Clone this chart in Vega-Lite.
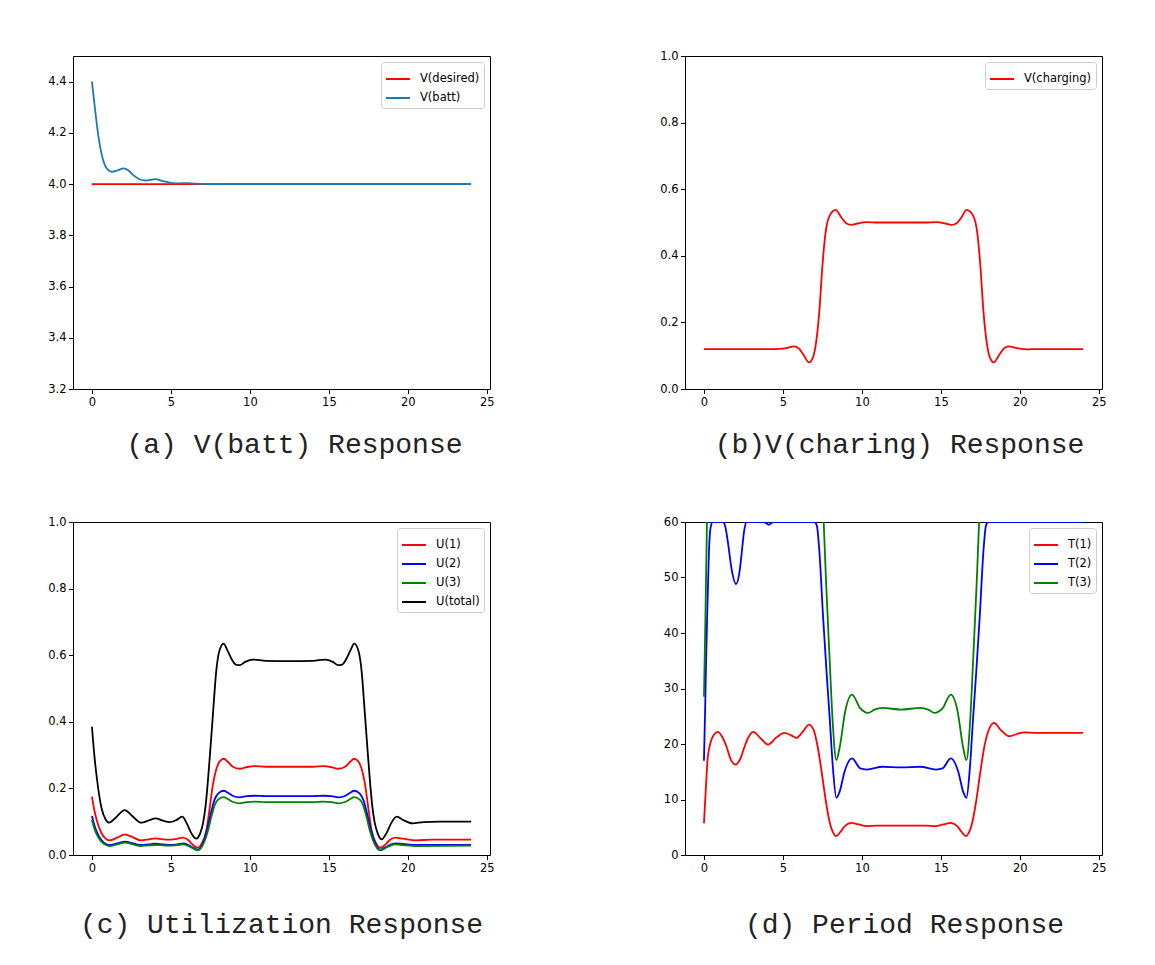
{
"$schema": "https://vega.github.io/schema/vega-lite/v6.json",
"background": "white",
"padding": {"left": 47, "top": 49, "right": 20, "bottom": 20},
"config": {
  "view": {"stroke": "black", "strokeWidth": 1},
  "axis": {"domain": false, "grid": false, "tickColor": "black", "tickSize": 4.5, "tickWidth": 1, "labelFont": "DejaVu Sans", "labelFontSize": 11.5, "labelColor": "black", "labelPadding": 2.5, "titleFont": "Liberation Mono", "titleFontSize": 28, "titleFontWeight": "normal", "titleColor": "#222222"},
  "legend": {"orient": "top-right", "offset": 6, "padding": 4, "strokeColor": "#cccccc", "fillColor": "white", "cornerRadius": 3, "symbolType": "stroke", "symbolSize": 576, "symbolStrokeWidth": 2, "labelFont": "DejaVu Sans", "labelFontSize": 11.5, "labelColor": "black", "rowPadding": 0, "labelOffset": 9, "title": null}
},
"datasets": {
"a": [
{"t":0,"v":4.0,"s":"V(desired)"},{"t":24,"v":4.0,"s":"V(desired)"},
{"t":0,"v":4.40,"s":"V(batt)"},{"t":0.2,"v":4.29,"s":"V(batt)"},{"t":0.4,"v":4.19,"s":"V(batt)"},{"t":0.6,"v":4.12,"s":"V(batt)"},{"t":0.8,"v":4.077,"s":"V(batt)"},{"t":1.0,"v":4.056,"s":"V(batt)"},{"t":1.25,"v":4.048,"s":"V(batt)"},{"t":1.6,"v":4.053,"s":"V(batt)"},{"t":2.0,"v":4.061,"s":"V(batt)"},{"t":2.3,"v":4.054,"s":"V(batt)"},{"t":2.6,"v":4.036,"s":"V(batt)"},{"t":3.0,"v":4.019,"s":"V(batt)"},{"t":3.4,"v":4.014,"s":"V(batt)"},{"t":3.7,"v":4.016,"s":"V(batt)"},{"t":4.0,"v":4.019,"s":"V(batt)"},{"t":4.5,"v":4.012,"s":"V(batt)"},{"t":5.0,"v":4.005,"s":"V(batt)"},{"t":5.5,"v":4.003,"s":"V(batt)"},{"t":6.0,"v":4.004,"s":"V(batt)"},{"t":6.5,"v":4.002,"s":"V(batt)"},{"t":7.0,"v":4.001,"s":"V(batt)"},{"t":8.0,"v":4.0,"s":"V(batt)"},{"t":12,"v":4.0,"s":"V(batt)"},{"t":16,"v":4.0,"s":"V(batt)"},{"t":20,"v":4.0,"s":"V(batt)"},{"t":24,"v":4.0,"s":"V(batt)"}
],
"b": [
{"t":0,"v":0.12},{"t":4.5,"v":0.12},{"t":5.0,"v":0.121},{"t":5.4,"v":0.125},{"t":5.7,"v":0.128},{"t":6.0,"v":0.122},{"t":6.3,"v":0.103},{"t":6.65,"v":0.08},{"t":6.9,"v":0.095},{"t":7.1,"v":0.14},{"t":7.3,"v":0.23},{"t":7.5,"v":0.37},{"t":7.7,"v":0.47},{"t":7.95,"v":0.52},{"t":8.34,"v":0.538},{"t":8.7,"v":0.515},{"t":9.0,"v":0.498},{"t":9.33,"v":0.493},{"t":9.7,"v":0.497},{"t":10.3,"v":0.501},{"t":11,"v":0.5},{"t":12.5,"v":0.5},{"t":14,"v":0.5},{"t":14.7,"v":0.501},{"t":15.3,"v":0.497},{"t":15.67,"v":0.493},{"t":16.0,"v":0.498},{"t":16.3,"v":0.515},{"t":16.62,"v":0.538},{"t":17.05,"v":0.52},{"t":17.3,"v":0.47},{"t":17.5,"v":0.37},{"t":17.7,"v":0.23},{"t":17.9,"v":0.14},{"t":18.1,"v":0.095},{"t":18.35,"v":0.08},{"t":18.7,"v":0.103},{"t":19.0,"v":0.122},{"t":19.3,"v":0.128},{"t":19.6,"v":0.125},{"t":20.0,"v":0.121},{"t":20.5,"v":0.119},{"t":21,"v":0.12},{"t":24,"v":0.12}
],
"c": [
{"s":"U(1)","t":0,"v":0.175},{"s":"U(1)","t":0.15,"v":0.135},{"s":"U(1)","t":0.3,"v":0.105},{"s":"U(1)","t":0.6,"v":0.066},{"s":"U(1)","t":0.85,"v":0.05},{"s":"U(1)","t":1.1,"v":0.044},{"s":"U(1)","t":1.6,"v":0.052},{"s":"U(1)","t":2.07,"v":0.062},{"s":"U(1)","t":2.6,"v":0.053},{"s":"U(1)","t":3.1,"v":0.044},{"s":"U(1)","t":3.6,"v":0.047},{"s":"U(1)","t":4.0,"v":0.05},{"s":"U(1)","t":4.5,"v":0.047},{"s":"U(1)","t":4.9,"v":0.046},{"s":"U(1)","t":5.3,"v":0.048},{"s":"U(1)","t":5.75,"v":0.052},{"s":"U(1)","t":6.1,"v":0.045},{"s":"U(1)","t":6.4,"v":0.03},{"s":"U(1)","t":6.7,"v":0.022},{"s":"U(1)","t":6.95,"v":0.035},{"s":"U(1)","t":7.24,"v":0.072},{"s":"U(1)","t":7.45,"v":0.14},{"s":"U(1)","t":7.66,"v":0.212},{"s":"U(1)","t":7.9,"v":0.262},{"s":"U(1)","t":8.1,"v":0.282},{"s":"U(1)","t":8.35,"v":0.289},{"s":"U(1)","t":8.6,"v":0.28},{"s":"U(1)","t":8.9,"v":0.266},{"s":"U(1)","t":9.35,"v":0.259},{"s":"U(1)","t":9.8,"v":0.264},{"s":"U(1)","t":10.3,"v":0.267},{"s":"U(1)","t":11,"v":0.265},{"s":"U(1)","t":12.5,"v":0.265},{"s":"U(1)","t":14,"v":0.265},{"s":"U(1)","t":14.65,"v":0.267},{"s":"U(1)","t":15.15,"v":0.264},{"s":"U(1)","t":15.6,"v":0.259},{"s":"U(1)","t":16.05,"v":0.266},{"s":"U(1)","t":16.35,"v":0.28},{"s":"U(1)","t":16.6,"v":0.289},{"s":"U(1)","t":16.85,"v":0.282},{"s":"U(1)","t":17.05,"v":0.262},{"s":"U(1)","t":17.29,"v":0.212},{"s":"U(1)","t":17.5,"v":0.14},{"s":"U(1)","t":17.71,"v":0.072},{"s":"U(1)","t":18.0,"v":0.035},{"s":"U(1)","t":18.25,"v":0.022},{"s":"U(1)","t":18.55,"v":0.03},{"s":"U(1)","t":18.85,"v":0.045},{"s":"U(1)","t":19.2,"v":0.052},{"s":"U(1)","t":19.7,"v":0.049},{"s":"U(1)","t":20.5,"v":0.044},{"s":"U(1)","t":21.5,"v":0.046},{"s":"U(1)","t":24,"v":0.046},
{"s":"U(2)","t":0,"v":0.117},{"s":"U(2)","t":0.15,"v":0.09},{"s":"U(2)","t":0.3,"v":0.07},{"s":"U(2)","t":0.6,"v":0.045},{"s":"U(2)","t":0.85,"v":0.034},{"s":"U(2)","t":1.1,"v":0.03},{"s":"U(2)","t":1.6,"v":0.035},{"s":"U(2)","t":2.1,"v":0.04},{"s":"U(2)","t":2.6,"v":0.035},{"s":"U(2)","t":3.1,"v":0.03},{"s":"U(2)","t":3.6,"v":0.032},{"s":"U(2)","t":4.0,"v":0.034},{"s":"U(2)","t":4.5,"v":0.032},{"s":"U(2)","t":5.0,"v":0.03},{"s":"U(2)","t":5.4,"v":0.032},{"s":"U(2)","t":5.8,"v":0.035},{"s":"U(2)","t":6.1,"v":0.03},{"s":"U(2)","t":6.4,"v":0.022},{"s":"U(2)","t":6.7,"v":0.016},{"s":"U(2)","t":6.95,"v":0.028},{"s":"U(2)","t":7.34,"v":0.087},{"s":"U(2)","t":7.55,"v":0.13},{"s":"U(2)","t":7.77,"v":0.167},{"s":"U(2)","t":8.0,"v":0.185},{"s":"U(2)","t":8.33,"v":0.193},{"s":"U(2)","t":8.6,"v":0.187},{"s":"U(2)","t":8.9,"v":0.178},{"s":"U(2)","t":9.35,"v":0.173},{"s":"U(2)","t":9.8,"v":0.177},{"s":"U(2)","t":10.3,"v":0.178},{"s":"U(2)","t":11,"v":0.177},{"s":"U(2)","t":12.5,"v":0.177},{"s":"U(2)","t":14,"v":0.177},{"s":"U(2)","t":14.65,"v":0.178},{"s":"U(2)","t":15.15,"v":0.177},{"s":"U(2)","t":15.6,"v":0.173},{"s":"U(2)","t":16.05,"v":0.178},{"s":"U(2)","t":16.35,"v":0.187},{"s":"U(2)","t":16.6,"v":0.193},{"s":"U(2)","t":16.94,"v":0.185},{"s":"U(2)","t":17.17,"v":0.167},{"s":"U(2)","t":17.39,"v":0.13},{"s":"U(2)","t":17.6,"v":0.087},{"s":"U(2)","t":18.0,"v":0.028},{"s":"U(2)","t":18.25,"v":0.016},{"s":"U(2)","t":18.55,"v":0.022},{"s":"U(2)","t":18.85,"v":0.03},{"s":"U(2)","t":19.2,"v":0.035},{"s":"U(2)","t":19.7,"v":0.033},{"s":"U(2)","t":20.5,"v":0.03},{"s":"U(2)","t":24,"v":0.03},
{"s":"U(3)","t":0,"v":0.105},{"s":"U(3)","t":0.15,"v":0.08},{"s":"U(3)","t":0.3,"v":0.062},{"s":"U(3)","t":0.6,"v":0.04},{"s":"U(3)","t":0.85,"v":0.031},{"s":"U(3)","t":1.1,"v":0.027},{"s":"U(3)","t":1.6,"v":0.032},{"s":"U(3)","t":2.1,"v":0.037},{"s":"U(3)","t":2.6,"v":0.032},{"s":"U(3)","t":3.1,"v":0.027},{"s":"U(3)","t":3.6,"v":0.029},{"s":"U(3)","t":4.0,"v":0.03},{"s":"U(3)","t":4.5,"v":0.029},{"s":"U(3)","t":5.0,"v":0.028},{"s":"U(3)","t":5.4,"v":0.03},{"s":"U(3)","t":5.8,"v":0.032},{"s":"U(3)","t":6.1,"v":0.027},{"s":"U(3)","t":6.4,"v":0.02},{"s":"U(3)","t":6.7,"v":0.014},{"s":"U(3)","t":6.95,"v":0.024},{"s":"U(3)","t":7.34,"v":0.072},{"s":"U(3)","t":7.55,"v":0.113},{"s":"U(3)","t":7.77,"v":0.15},{"s":"U(3)","t":8.0,"v":0.167},{"s":"U(3)","t":8.33,"v":0.174},{"s":"U(3)","t":8.6,"v":0.168},{"s":"U(3)","t":8.9,"v":0.16},{"s":"U(3)","t":9.35,"v":0.155},{"s":"U(3)","t":9.8,"v":0.159},{"s":"U(3)","t":10.3,"v":0.16},{"s":"U(3)","t":11,"v":0.159},{"s":"U(3)","t":12.5,"v":0.159},{"s":"U(3)","t":14,"v":0.159},{"s":"U(3)","t":14.65,"v":0.16},{"s":"U(3)","t":15.15,"v":0.159},{"s":"U(3)","t":15.6,"v":0.155},{"s":"U(3)","t":16.05,"v":0.16},{"s":"U(3)","t":16.35,"v":0.168},{"s":"U(3)","t":16.6,"v":0.174},{"s":"U(3)","t":16.94,"v":0.167},{"s":"U(3)","t":17.17,"v":0.15},{"s":"U(3)","t":17.39,"v":0.113},{"s":"U(3)","t":17.6,"v":0.072},{"s":"U(3)","t":18.0,"v":0.024},{"s":"U(3)","t":18.25,"v":0.014},{"s":"U(3)","t":18.55,"v":0.02},{"s":"U(3)","t":18.85,"v":0.027},{"s":"U(3)","t":19.2,"v":0.032},{"s":"U(3)","t":19.7,"v":0.03},{"s":"U(3)","t":20.5,"v":0.027},{"s":"U(3)","t":24,"v":0.028},
{"s":"U(total)","t":0,"v":0.385},{"s":"U(total)","t":0.15,"v":0.3},{"s":"U(total)","t":0.3,"v":0.235},{"s":"U(total)","t":0.6,"v":0.142},{"s":"U(total)","t":0.85,"v":0.108},{"s":"U(total)","t":1.08,"v":0.097},{"s":"U(total)","t":1.5,"v":0.112},{"s":"U(total)","t":2.07,"v":0.135},{"s":"U(total)","t":2.6,"v":0.115},{"s":"U(total)","t":3.12,"v":0.097},{"s":"U(total)","t":3.6,"v":0.104},{"s":"U(total)","t":4.03,"v":0.11},{"s":"U(total)","t":4.5,"v":0.103},{"s":"U(total)","t":4.92,"v":0.099},{"s":"U(total)","t":5.3,"v":0.104},{"s":"U(total)","t":5.72,"v":0.115},{"s":"U(total)","t":6.0,"v":0.095},{"s":"U(total)","t":6.3,"v":0.065},{"s":"U(total)","t":6.6,"v":0.049},{"s":"U(total)","t":6.85,"v":0.065},{"s":"U(total)","t":7.03,"v":0.095},{"s":"U(total)","t":7.2,"v":0.15},{"s":"U(total)","t":7.34,"v":0.222},{"s":"U(total)","t":7.5,"v":0.32},{"s":"U(total)","t":7.66,"v":0.423},{"s":"U(total)","t":7.87,"v":0.553},{"s":"U(total)","t":8.05,"v":0.61},{"s":"U(total)","t":8.33,"v":0.635},{"s":"U(total)","t":8.6,"v":0.612},{"s":"U(total)","t":8.82,"v":0.59},{"s":"U(total)","t":9.1,"v":0.572},{"s":"U(total)","t":9.35,"v":0.57},{"s":"U(total)","t":9.7,"v":0.58},{"s":"U(total)","t":10.2,"v":0.587},{"s":"U(total)","t":11,"v":0.583},{"s":"U(total)","t":12.5,"v":0.582},{"s":"U(total)","t":14,"v":0.583},{"s":"U(total)","t":14.75,"v":0.587},{"s":"U(total)","t":15.25,"v":0.58},{"s":"U(total)","t":15.59,"v":0.57},{"s":"U(total)","t":15.84,"v":0.572},{"s":"U(total)","t":16.12,"v":0.59},{"s":"U(total)","t":16.34,"v":0.612},{"s":"U(total)","t":16.61,"v":0.635},{"s":"U(total)","t":16.89,"v":0.61},{"s":"U(total)","t":17.07,"v":0.553},{"s":"U(total)","t":17.28,"v":0.423},{"s":"U(total)","t":17.44,"v":0.32},{"s":"U(total)","t":17.6,"v":0.222},{"s":"U(total)","t":17.74,"v":0.15},{"s":"U(total)","t":17.91,"v":0.095},{"s":"U(total)","t":18.09,"v":0.065},{"s":"U(total)","t":18.34,"v":0.047},{"s":"U(total)","t":18.64,"v":0.065},{"s":"U(total)","t":18.94,"v":0.095},{"s":"U(total)","t":19.3,"v":0.115},{"s":"U(total)","t":19.7,"v":0.105},{"s":"U(total)","t":20.3,"v":0.095},{"s":"U(total)","t":21,"v":0.099},{"s":"U(total)","t":22,"v":0.1},{"s":"U(total)","t":24,"v":0.1}
],
"d": [
{"s":"T(1)","t":0,"v":5.7},{"s":"T(1)","t":0.12,"v":12},{"s":"T(1)","t":0.25,"v":17.8},{"s":"T(1)","t":0.57,"v":21.4},{"s":"T(1)","t":0.89,"v":22.2},{"s":"T(1)","t":1.15,"v":21.3},{"s":"T(1)","t":1.42,"v":19.6},{"s":"T(1)","t":1.7,"v":17.2},{"s":"T(1)","t":2.0,"v":16.3},{"s":"T(1)","t":2.3,"v":17.3},{"s":"T(1)","t":2.58,"v":19.6},{"s":"T(1)","t":2.85,"v":21.4},{"s":"T(1)","t":3.12,"v":22.2},{"s":"T(1)","t":3.6,"v":21.0},{"s":"T(1)","t":4.05,"v":19.9},{"s":"T(1)","t":4.6,"v":21.2},{"s":"T(1)","t":5.09,"v":22.0},{"s":"T(1)","t":5.5,"v":21.6},{"s":"T(1)","t":5.85,"v":21.1},{"s":"T(1)","t":6.25,"v":22.2},{"s":"T(1)","t":6.65,"v":23.5},{"s":"T(1)","t":6.95,"v":22.5},{"s":"T(1)","t":7.2,"v":19.5},{"s":"T(1)","t":7.45,"v":15},{"s":"T(1)","t":7.7,"v":10},{"s":"T(1)","t":7.95,"v":6},{"s":"T(1)","t":8.15,"v":4.2},{"s":"T(1)","t":8.38,"v":3.4},{"s":"T(1)","t":8.65,"v":4.2},{"s":"T(1)","t":8.95,"v":5.3},{"s":"T(1)","t":9.33,"v":5.8},{"s":"T(1)","t":9.8,"v":5.5},{"s":"T(1)","t":10.3,"v":5.2},{"s":"T(1)","t":11,"v":5.3},{"s":"T(1)","t":12.5,"v":5.3},{"s":"T(1)","t":14,"v":5.3},{"s":"T(1)","t":14.65,"v":5.2},{"s":"T(1)","t":15.15,"v":5.5},{"s":"T(1)","t":15.62,"v":5.8},{"s":"T(1)","t":16.0,"v":5.3},{"s":"T(1)","t":16.3,"v":4.2},{"s":"T(1)","t":16.57,"v":3.4},{"s":"T(1)","t":16.8,"v":4.2},{"s":"T(1)","t":17.0,"v":6},{"s":"T(1)","t":17.25,"v":10},{"s":"T(1)","t":17.5,"v":15},{"s":"T(1)","t":17.75,"v":19.5},{"s":"T(1)","t":18.0,"v":22.3},{"s":"T(1)","t":18.37,"v":23.8},{"s":"T(1)","t":18.8,"v":22.5},{"s":"T(1)","t":19.32,"v":21.4},{"s":"T(1)","t":19.8,"v":21.8},{"s":"T(1)","t":20.3,"v":22.1},{"s":"T(1)","t":21,"v":22.0},{"s":"T(1)","t":24,"v":22.0},
{"s":"T(2)","t":0,"v":17},{"s":"T(2)","t":0.08,"v":27},{"s":"T(2)","t":0.15,"v":37},{"s":"T(2)","t":0.25,"v":48},{"s":"T(2)","t":0.32,"v":55},{"s":"T(2)","t":0.42,"v":59},{"s":"T(2)","t":0.55,"v":60},{"s":"T(2)","t":1.2,"v":60},{"s":"T(2)","t":1.35,"v":59.2},{"s":"T(2)","t":1.52,"v":56.3},{"s":"T(2)","t":1.75,"v":51.5},{"s":"T(2)","t":2.03,"v":48.8},{"s":"T(2)","t":2.25,"v":51},{"s":"T(2)","t":2.37,"v":53.9},{"s":"T(2)","t":2.55,"v":58.5},{"s":"T(2)","t":2.7,"v":60},{"s":"T(2)","t":3.8,"v":60},{"s":"T(2)","t":4.1,"v":59.5},{"s":"T(2)","t":4.4,"v":60},{"s":"T(2)","t":7.0,"v":60},{"s":"T(2)","t":7.15,"v":59.3},{"s":"T(2)","t":7.3,"v":55},{"s":"T(2)","t":7.54,"v":43},{"s":"T(2)","t":7.75,"v":33.5},{"s":"T(2)","t":7.96,"v":24.7},{"s":"T(2)","t":8.17,"v":15.5},{"s":"T(2)","t":8.38,"v":10.3},{"s":"T(2)","t":8.6,"v":11.5},{"s":"T(2)","t":8.9,"v":15},{"s":"T(2)","t":9.37,"v":17.4},{"s":"T(2)","t":9.9,"v":15.6},{"s":"T(2)","t":10.3,"v":15.4},{"s":"T(2)","t":11.3,"v":15.9},{"s":"T(2)","t":12.5,"v":15.8},{"s":"T(2)","t":13.7,"v":15.9},{"s":"T(2)","t":14.7,"v":15.4},{"s":"T(2)","t":15.1,"v":15.6},{"s":"T(2)","t":15.63,"v":17.4},{"s":"T(2)","t":16.1,"v":15},{"s":"T(2)","t":16.4,"v":11.5},{"s":"T(2)","t":16.62,"v":10.3},{"s":"T(2)","t":16.83,"v":15.5},{"s":"T(2)","t":17.04,"v":24.7},{"s":"T(2)","t":17.25,"v":33.5},{"s":"T(2)","t":17.46,"v":43},{"s":"T(2)","t":17.7,"v":55},{"s":"T(2)","t":17.85,"v":59.3},{"s":"T(2)","t":18.0,"v":60},{"s":"T(2)","t":24,"v":60},
{"s":"T(3)","t":0,"v":28.5},{"s":"T(3)","t":0.1,"v":44},{"s":"T(3)","t":0.19,"v":60},{"s":"T(3)","t":0.3,"v":78},{"s":"T(3)","t":0.45,"v":95},{"s":"T(3)","t":0.7,"v":100},{"s":"T(3)","t":7.2,"v":100},{"s":"T(3)","t":7.4,"v":78},{"s":"T(3)","t":7.58,"v":60},{"s":"T(3)","t":7.75,"v":48},{"s":"T(3)","t":7.96,"v":35},{"s":"T(3)","t":8.15,"v":24},{"s":"T(3)","t":8.38,"v":17.1},{"s":"T(3)","t":8.6,"v":19.5},{"s":"T(3)","t":8.95,"v":26},{"s":"T(3)","t":9.37,"v":28.9},{"s":"T(3)","t":9.9,"v":26.4},{"s":"T(3)","t":10.39,"v":25.6},{"s":"T(3)","t":10.8,"v":26.2},{"s":"T(3)","t":11.3,"v":26.5},{"s":"T(3)","t":12.5,"v":26.2},{"s":"T(3)","t":13.7,"v":26.5},{"s":"T(3)","t":14.2,"v":26.2},{"s":"T(3)","t":14.6,"v":25.6},{"s":"T(3)","t":15.1,"v":26.4},{"s":"T(3)","t":15.63,"v":28.9},{"s":"T(3)","t":16.05,"v":26},{"s":"T(3)","t":16.4,"v":19.5},{"s":"T(3)","t":16.62,"v":17.1},{"s":"T(3)","t":16.85,"v":24},{"s":"T(3)","t":17.04,"v":35},{"s":"T(3)","t":17.25,"v":48},{"s":"T(3)","t":17.42,"v":60},{"s":"T(3)","t":17.6,"v":78},{"s":"T(3)","t":17.8,"v":95},{"s":"T(3)","t":18.05,"v":100},{"s":"T(3)","t":24,"v":100}
]
},
"columns": 2,
"bounds": "flush",
"spacing": {"row": 133, "column": 195},
"resolve": {"scale": {"color": "independent", "x": "independent", "y": "independent"}, "legend": {"color": "independent"}},
"concat": [
{
  "width": 417, "height": 333,
  "data": {"name": "a"},
  "mark": {"type": "line", "interpolate": "monotone", "strokeWidth": 1.8, "clip": true},
  "encoding": {
    "x": {"field": "t", "type": "quantitative", "scale": {"domain": [-1.2, 25.2], "nice": false, "zero": false}, "axis": {"values": [0,5,10,15,20,25], "title": "(a) V(batt) Response", "titlePadding": 23, "titleX": 221}},
    "y": {"field": "v", "type": "quantitative", "scale": {"domain": [3.2, 4.5], "nice": false, "zero": false}, "axis": {"values": [3.2,3.4,3.6,3.8,4.0,4.2,4.4], "format": ".1f", "title": null}},
    "color": {"field": "s", "type": "nominal", "sort": null, "scale": {"domain": ["V(desired)", "V(batt)"], "range": ["#ff0000", "#1f77b4"]}, "legend": {"title": null}}
  }
},
{
  "width": 417, "height": 333,
  "data": {"name": "b"},
  "transform": [{"calculate": "'V(charging)'", "as": "s"}],
  "mark": {"type": "line", "interpolate": "monotone", "strokeWidth": 1.8, "clip": true},
  "encoding": {
    "x": {"field": "t", "type": "quantitative", "scale": {"domain": [-1.2, 25.2], "nice": false, "zero": false}, "axis": {"values": [0,5,10,15,20,25], "title": "(b)V(charing) Response", "titlePadding": 23, "titleX": 214}},
    "y": {"field": "v", "type": "quantitative", "scale": {"domain": [0, 1], "nice": false}, "axis": {"values": [0,0.2,0.4,0.6,0.8,1.0], "format": ".1f", "title": null}},
    "color": {"field": "s", "type": "nominal", "scale": {"domain": ["V(charging)"], "range": ["#ff0000"]}, "legend": {"title": null}}
  }
},
{
  "width": 417, "height": 333,
  "data": {"name": "c"},
  "mark": {"type": "line", "interpolate": "monotone", "strokeWidth": 1.8, "clip": true},
  "encoding": {
    "x": {"field": "t", "type": "quantitative", "scale": {"domain": [-1.2, 25.2], "nice": false, "zero": false}, "axis": {"values": [0,5,10,15,20,25], "title": "(c) Utilization Response", "titlePadding": 37, "titleX": 208}},
    "y": {"field": "v", "type": "quantitative", "scale": {"domain": [0, 1], "nice": false}, "axis": {"values": [0,0.2,0.4,0.6,0.8,1.0], "format": ".1f", "title": null}},
    "color": {"field": "s", "type": "nominal", "scale": {"domain": ["U(1)", "U(2)", "U(3)", "U(total)"], "range": ["#ff0000", "#0000ff", "#008000", "#000000"]}, "legend": {"title": null}}
  }
},
{
  "width": 417, "height": 333,
  "data": {"name": "d"},
  "mark": {"type": "line", "interpolate": "monotone", "strokeWidth": 1.8, "clip": true},
  "encoding": {
    "x": {"field": "t", "type": "quantitative", "scale": {"domain": [-1.2, 25.2], "nice": false, "zero": false}, "axis": {"values": [0,5,10,15,20,25], "title": "(d) Period Response", "titlePadding": 37, "titleX": 219}},
    "y": {"field": "v", "type": "quantitative", "scale": {"domain": [0, 60], "nice": false}, "axis": {"values": [0,10,20,30,40,50,60], "format": "d", "title": null}},
    "color": {"field": "s", "type": "nominal", "scale": {"domain": ["T(1)", "T(2)", "T(3)"], "range": ["#ff0000", "#0000ff", "#008000"]}, "legend": {"title": null}}
  }
}
]
}
